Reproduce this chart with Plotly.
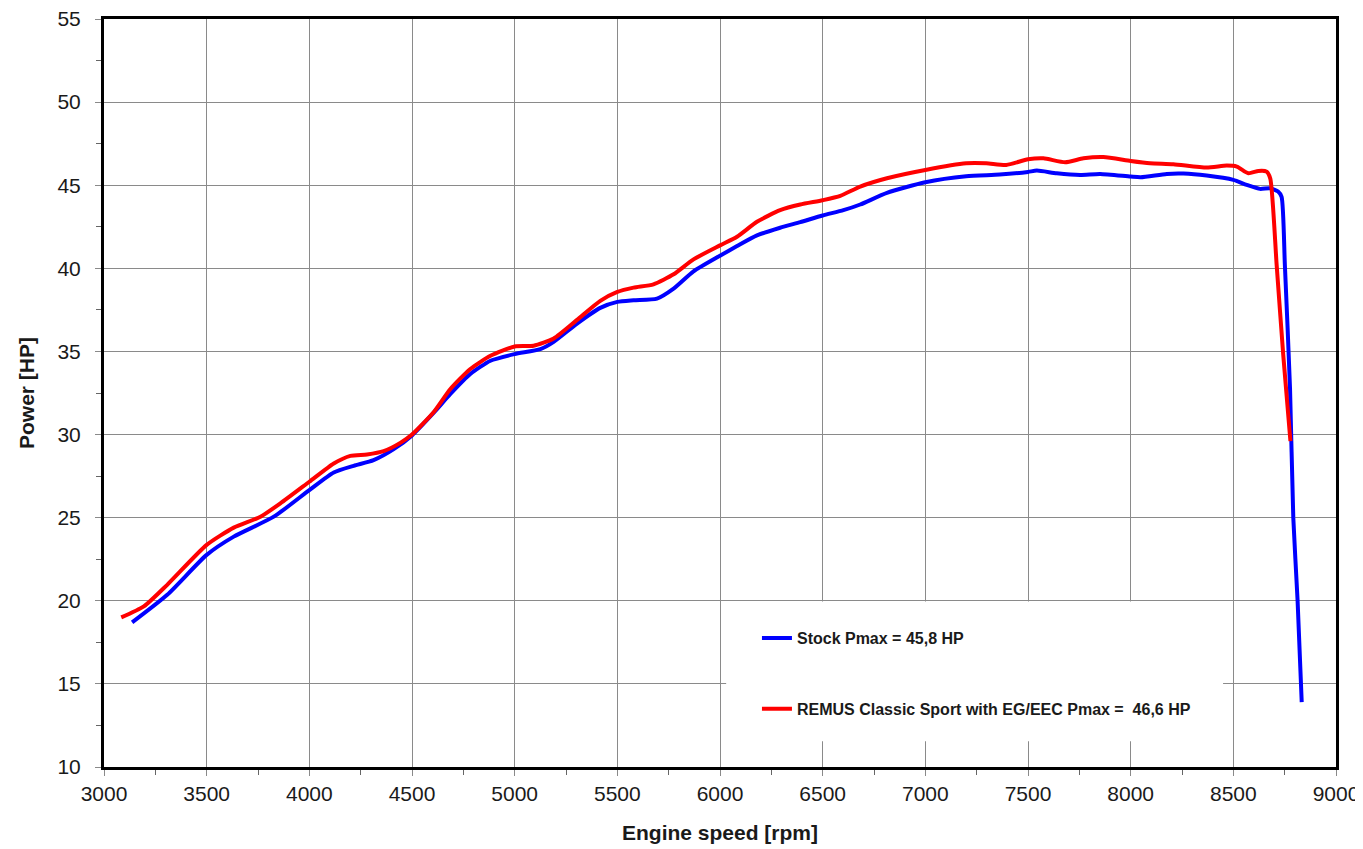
import plotly.graph_objects as go

# Stock series
stock_rpm = [3137, 3308, 3500, 3632, 3827, 4000, 4119, 4216, 4313, 4411, 4500,
             4605, 4687, 4784, 4882, 5000, 5125, 5190, 5304, 5417, 5500, 5579,
             5693, 5774, 5871, 6000, 6083, 6180, 6293, 6391, 6500, 6601, 6683,
             6813, 7000, 7199, 7362, 7500, 7543, 7640, 7754, 7851, 8000, 8049,
             8176, 8257, 8370, 8500, 8565, 8630, 8678, 8718, 8735, 8751, 8776,
             8792, 8813, 8833]
stock_hp = [18.7, 20.36, 22.76, 23.86, 25.06, 26.66, 27.72, 28.12, 28.46, 29.12, 29.95,
            31.3, 32.44, 33.64, 34.44, 34.84, 35.14, 35.58, 36.68, 37.62, 37.98, 38.08,
            38.18, 38.78, 39.82, 40.76, 41.34, 41.98, 42.44, 42.78, 43.18, 43.5, 43.84,
            44.54, 45.18, 45.54, 45.64, 45.8, 45.88, 45.72, 45.62, 45.68, 45.52, 45.48,
            45.68, 45.7, 45.58, 45.32, 45.02, 44.78, 44.82, 44.62, 44.3, 40.2, 32.8,
            25.0, 20.0, 13.9]

# REMUS series
remus_rpm = [3084, 3194, 3308, 3500, 3632, 3762, 3859, 4000, 4119, 4200, 4281,
             4362, 4443, 4500, 4605, 4687, 4784, 4882, 5000, 5092, 5190, 5304,
             5417, 5500, 5579, 5676, 5774, 5871, 6000, 6083, 6180, 6293, 6391,
             6500, 6586, 6683, 6813, 7000, 7199, 7297, 7394, 7500, 7575, 7681,
             7770, 7867, 8000, 8094, 8208, 8370, 8468, 8517, 8573, 8622, 8662,
             8680, 8711, 8743, 8778]
remus_hp = [19.0, 19.66, 20.96, 23.36, 24.4, 25.06, 25.86, 27.16, 28.26, 28.72, 28.8,
            29.0, 29.5, 30.0, 31.34, 32.74, 33.94, 34.74, 35.3, 35.34, 35.78, 36.9,
            38.04, 38.58, 38.84, 39.04, 39.64, 40.54, 41.38, 41.9, 42.8, 43.5, 43.84,
            44.1, 44.36, 44.92, 45.42, 45.92, 46.32, 46.32, 46.22, 46.56, 46.62, 46.38,
            46.62, 46.7, 46.46, 46.32, 46.26, 46.06, 46.18, 46.12, 45.72, 45.86, 45.82,
            45.4, 40.2, 34.8, 29.6]

series_names = ["Stock Pmax = 45,8 HP", "REMUS Classic Sport with EG/EEC Pmax =  46,6 HP"]
x_ticks = [3000, 3500, 4000, 4500, 5000, 5500, 6000, 6500, 7000, 7500, 8000, 8500, 9000]
y_ticks = [10, 15, 20, 25, 30, 35, 40, 45, 50, 55]

FONT = "Liberation Sans, Arial, sans-serif"

fig = go.Figure()
fig.add_trace(go.Scatter(x=stock_rpm, y=stock_hp, mode="lines", name=series_names[0],
                         legendgroup="a",
                         line=dict(color="#0000ff", width=4, shape="spline", smoothing=0.6)))
fig.add_trace(go.Scatter(x=remus_rpm, y=remus_hp, mode="lines", name=series_names[1],
                         legendgroup="b",
                         line=dict(color="#ff0000", width=4, shape="spline", smoothing=0.6)))

# white legend panel hiding the grid
fig.add_shape(type="rect", xref="x", yref="y", x0=6030, x1=8450, y0=11.55, y1=19.95,
              fillcolor="white", line=dict(width=0), layer="between")

axis_common = dict(
    showgrid=True, gridcolor="#8a8a8a", gridwidth=1,
    showline=True, linecolor="black", linewidth=3, mirror=True,
    ticks="outside", ticklen=6, tickcolor="#8a8a8a", tickwidth=1,
    tickfont=dict(family=FONT, size=21, color="#1a1a1a"),
    ticklabeloverflow="allow",
    zeroline=False,
)

fig.update_xaxes(range=[3000, 9000], tickvals=x_ticks, ticktext=[str(v) for v in x_ticks],
                 minor=dict(dtick=250, tick0=3000, ticks="outside", ticklen=5,
                            tickcolor="#666", showgrid=False),
                 title=dict(text="<b>Engine speed [rpm]</b>", standoff=22,
                            font=dict(family=FONT, size=21, color="#1a1a1a")),
                 **axis_common)
fig.update_yaxes(range=[10, 55], tickvals=y_ticks, ticktext=[str(v) for v in y_ticks],
                 minor=dict(dtick=2.5, tick0=10, ticks="outside", ticklen=5,
                            tickcolor="#666", showgrid=False),
                 ticklabelstandoff=10,
                 title=dict(text="<b>Power [HP]</b>", standoff=18,
                            font=dict(family=FONT, size=21, color="#1a1a1a")),
                 **axis_common)

fig.update_layout(
    width=1355, height=841,
    margin=dict(l=96, r=27, t=11, b=82, autoexpand=False),
    paper_bgcolor="white", plot_bgcolor="white",
    font=dict(family=FONT),
    showlegend=True,
    legend=dict(x=0.530, y=0.195, xanchor="left", yanchor="top",
                bgcolor="rgba(0,0,0,0)", borderwidth=0,
                tracegroupgap=47, itemwidth=30,
                font=dict(family=FONT, size=16, color="#1a1a1a", weight="bold")),
)

fig.write_html("out.html")
